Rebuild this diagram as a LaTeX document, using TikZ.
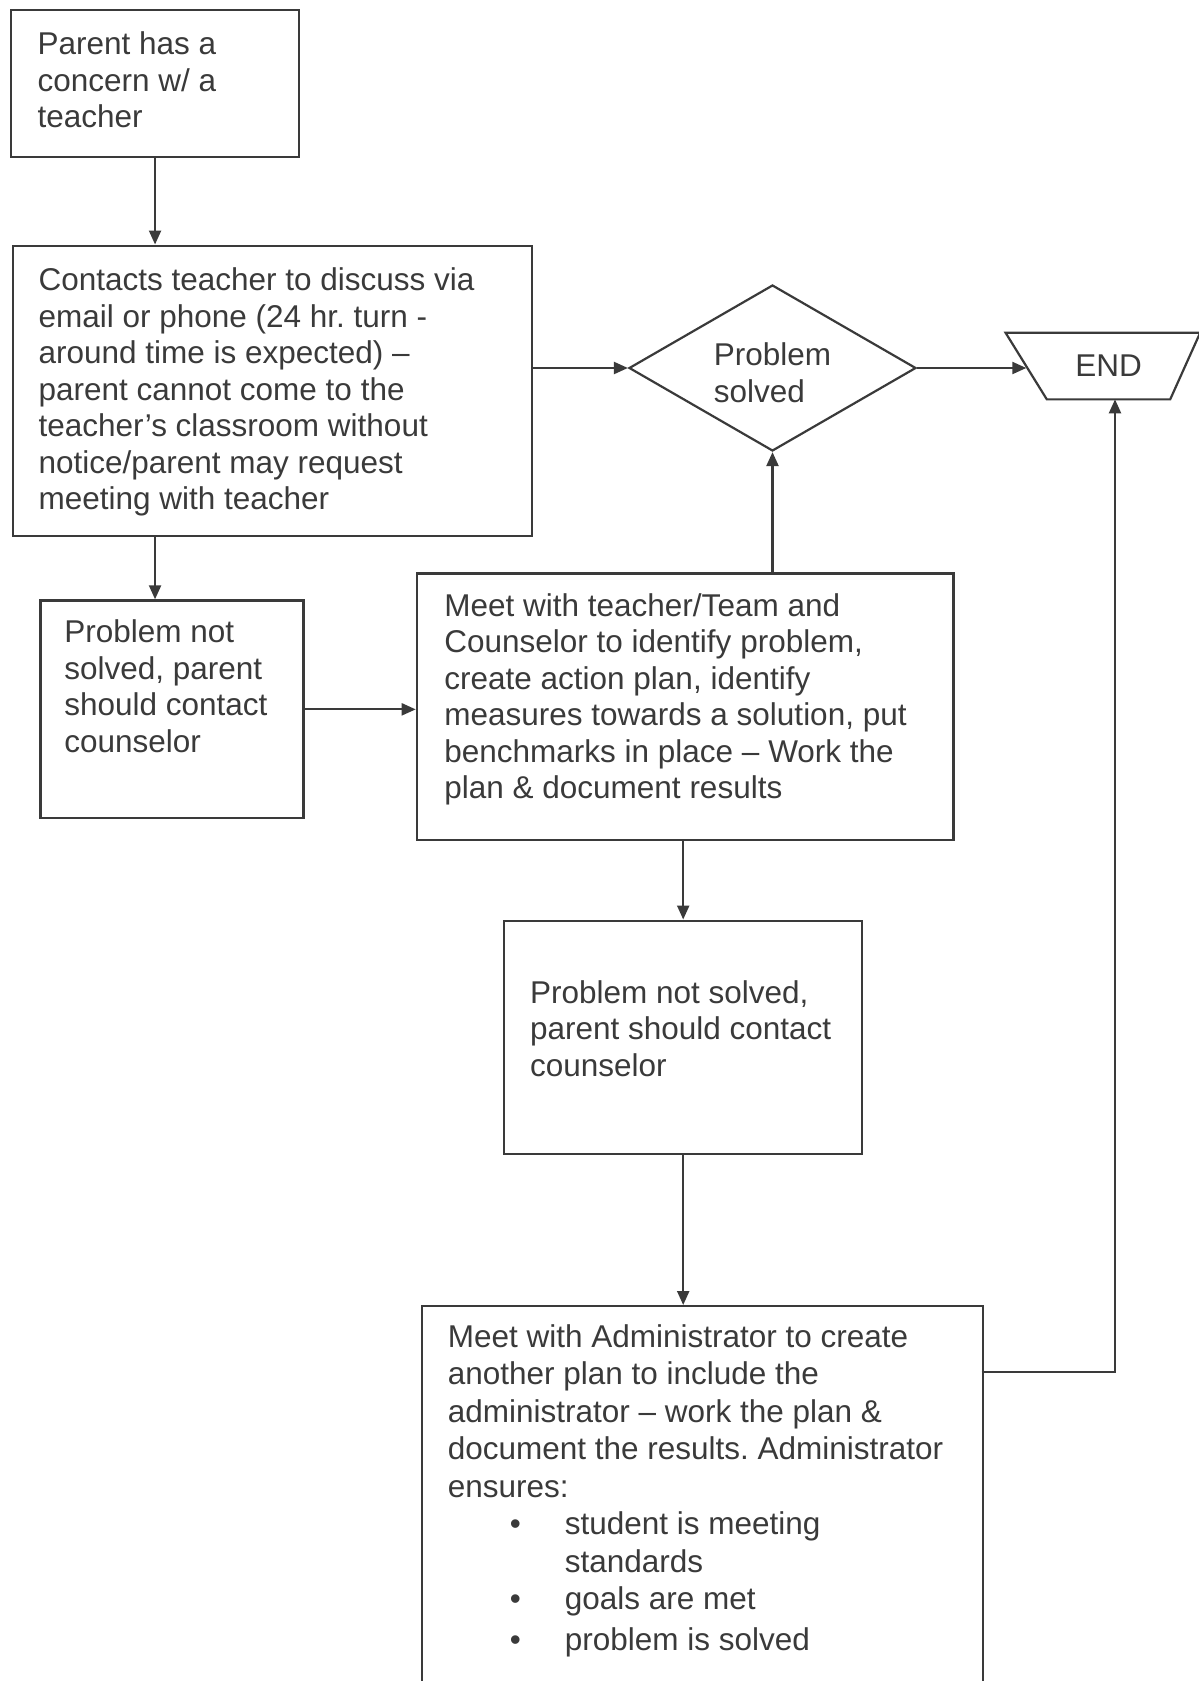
\documentclass[tikz,border=0pt]{standalone}
\usepackage{fontspec}
\setmainfont{Liberation Sans}
\usetikzlibrary{shapes.geometric,arrows.meta}
\definecolor{ink}{HTML}{3A3A3A}
\newcommand{\bt}[3]{\parbox[c][#2][t]{#1}{#3}}
\frenchspacing
\begin{document}
\begin{tikzpicture}[x=1pt,y=-1pt,
  every node/.style={font=\fontsize{31.5}{36.5}\selectfont, text=ink},
  box/.style={draw=ink, line width=2.2pt, anchor=north west, rectangle},
  arr/.style={draw=ink, line width=2.2pt, -{Triangle[length=14pt,width=12pt]}}]
\useasboundingbox (0,0) rectangle (1199,1681);

\node[box, inner xsep=26.8pt, inner ysep=19.45pt] (b1) at (9.7,8.6)
  {\bt{234.9pt}{108pt}{\strut\mbox{Parent has a}\\\mbox{concern w/ a}\\\mbox{teacher}}};

\node[box, inner xsep=25.7pt, inner ysep=19.55pt] (b2) at (11.8,244.5)
  {\bt{467.8pt}{251.4pt}{\strut\mbox{Contacts teacher to discuss via}\\
   \mbox{email or phone (24 hr. turn -}\\
   \mbox{around time is expected) –}\\
   \mbox{parent cannot come to the}\\
   \mbox{teacher’s classroom without}\\
   \mbox{notice/parent may request}\\
   \mbox{meeting with teacher}}};

\node[box, inner xsep=24pt, inner ysep=16.85pt] (b3) at (39.3,599.3)
  {\bt{215.1pt}{184.2pt}{\strut\mbox{Problem not}\\\mbox{solved, parent}\\\mbox{should contact}\\\mbox{counselor}}};

\node[box, inner xsep=27.6pt, inner ysep=17.15pt] (b4) at (415.7,572.3)
  {\bt{481.5pt}{232.1pt}{\strut\mbox{Meet with teacher/Team and}\\
   \mbox{Counselor to identify problem,}\\
   \mbox{create action plan, identify}\\
   \mbox{measures towards a solution, put}\\
   \mbox{benchmarks in place – Work the}\\
   \mbox{plan \& document results}}};

\node[box, inner xsep=26pt, inner ysep=56.95pt] (b5) at (503,919.5)
  {\bt{306.2pt}{119.6pt}{\strut\mbox{Problem not solved,}\\\mbox{parent should contact}\\\mbox{counselor}}};

\node[box, inner xsep=26pt, inner ysep=14.75pt] (b6) at (420.7,1305)
  {\bt{509pt}{370.5pt}{\fontsize{31.5}{37.5}\selectfont\strut\mbox{Meet with Administrator to create}\\
   \mbox{another plan to include the}\\
   \mbox{administrator – work the plan \&}\\
   \mbox{document the results. Administrator}\\
   \mbox{ensures:}\\
   \mbox{\hspace*{62pt}\makebox[55pt][l]{•}student is meeting}\\
   \mbox{\hspace*{117pt}standards}\\
   \mbox{\hspace*{62pt}\makebox[55pt][l]{•}goals are met}\\[3pt]
   \mbox{\hspace*{62pt}\makebox[55pt][l]{•}problem is solved}}};

\node[draw=ink, line width=2.2pt, diamond, aspect=1.73, minimum width=287pt, minimum height=166pt,
      inner sep=0pt, align=left] (dia) at (772.5,368) {\rule{0pt}{32pt}Problem\\solved};

\node[rectangle, minimum width=123pt, minimum height=66.3pt, inner sep=0pt]
      (END) at (1108.5,366) {END\hspace{27pt}};
\draw[ink, line width=2.2pt, line join=miter]
  (END.south west) -- (END.south east) -- ([xshift=30pt]END.north east)
  -- ([xshift=-41.3pt]END.north west) -- cycle;

\coordinate (k) at (981.7,1371.7);

\draw[arr] (b1.south) -- (b1.south |- b2.north);
\draw[arr] (b1.south |- b2.south) -- (b1.south |- b3.north);
\draw[arr] (b2.east |- dia.west) -- (dia.west);
\draw[arr] (dia.east) -- ([xshift=-20.5pt]END.west |- dia.east);
\draw[arr] (b3.east) -- (b3.east -| b4.west);
\draw[arr] (dia.south |- b4.north) -- (dia.south);
\draw[arr] (b5.north |- b4.south) -- (b5.north);
\draw[arr] (b5.south) -- (b5.south |- b6.north);
\draw[arr] (k) -| ([xshift=6.5pt]END.south);
\end{tikzpicture}
\end{document}
